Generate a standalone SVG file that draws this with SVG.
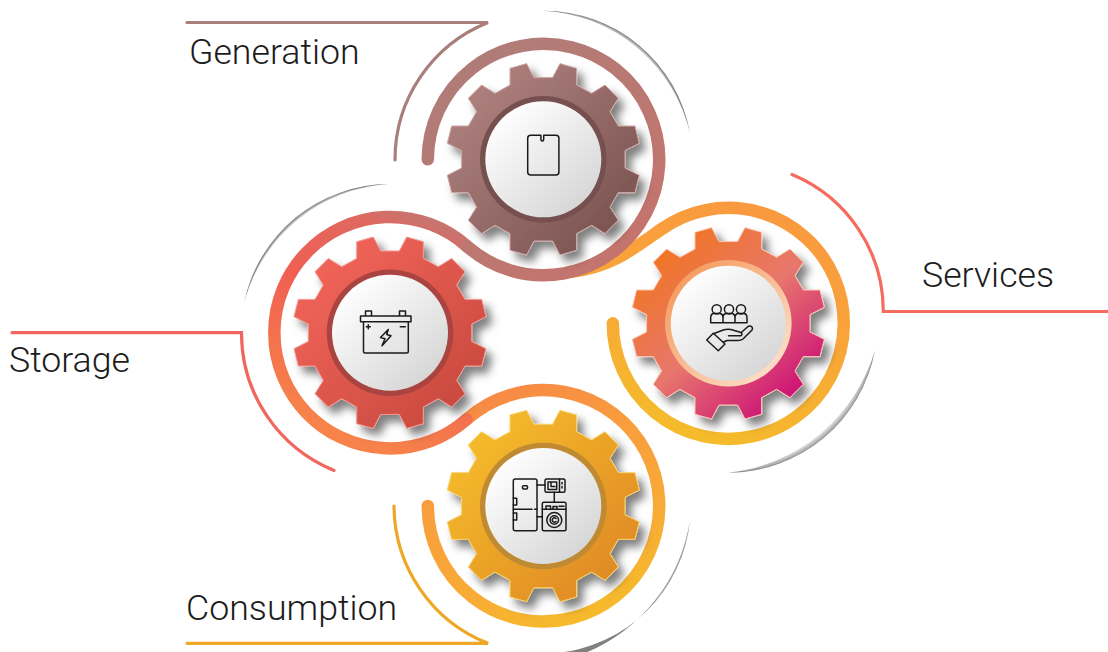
<svg xmlns="http://www.w3.org/2000/svg" width="1108" height="652" viewBox="0 0 1108 652">
<style>
.lbl{font-family:Roboto,"Liberation Sans",sans-serif;font-weight:300;font-size:35.7px;fill:#1c1c1c}
.ptr{fill:none;stroke-width:3.2;stroke-linecap:round;stroke-linejoin:miter}
.ring{fill:none;stroke-width:12.5;stroke-linecap:round}
.ico{fill:none;stroke:#1a1a1a;stroke-width:1.5;stroke-linejoin:round;stroke-linecap:round}
.disc{fill:url(#disc)}
.gear{stroke-width:1;filter:url(#sh)}
</style>
<defs>
<filter id="sh" x="-30%" y="-30%" width="170%" height="170%"><feDropShadow dx="6" dy="7" stdDeviation="4.5" flood-color="#000" flood-opacity=".5"/></filter>
<path id="g" d="M9.3-81.7 16.7-95.7 33.3-91V-74.3L48.3-66 61.7-74.3 75-61 66.7-47.7 75-33.3H91.7L96-16 81.7-8.7V8.7L96 16 91.7 33.3H75L66.7 47.7 75 61 61.7 74.3 48.3 66 33.3 74.3V91L16.7 95.7 9.3 81.7H-9.3L-16.7 95.7-33.3 91V74.3L-48.3 66-61.7 74.3-75 61-66.7 47.7-75 33.3H-91.7L-96 16-81.7 8.7V-8.7L-96-16-91.7-33.3H-75L-66.7-47.7-75-61-61.7-74.3-48.3-66-33.3-74.3V-91L-16.7-95.7-9.3-81.7Z"/>
<linearGradient id="disc" x1="0.15" y1="0.1" x2="0.85" y2="0.9"><stop offset="0" stop-color="#fff"/><stop offset="1" stop-color="#d6d6d6"/></linearGradient>
<linearGradient id="gBrown" x1="0.1" y1="0.1" x2="0.9" y2="0.85"><stop offset="0" stop-color="#b08280"/><stop offset="1" stop-color="#7b5451"/></linearGradient>
<linearGradient id="gRed" x1="0.1" y1="0.1" x2="0.9" y2="0.9"><stop offset="0" stop-color="#f3655a"/><stop offset="1" stop-color="#c8493e"/></linearGradient>
<linearGradient id="gSvc" x1="0.15" y1="0.1" x2="0.85" y2="0.9"><stop offset="0" stop-color="#f17522"/><stop offset=".5" stop-color="#e7776c"/><stop offset="1" stop-color="#cc0f78"/></linearGradient>
<linearGradient id="gYel" x1="0.1" y1="0.1" x2="0.9" y2="0.9"><stop offset="0" stop-color="#f6bd2b"/><stop offset="1" stop-color="#df8824"/></linearGradient>
<linearGradient id="rSvc" x1="0.1" y1="0.1" x2="0.9" y2="0.9"><stop offset="0" stop-color="#f49a5c"/><stop offset="1" stop-color="#fde0cc"/></linearGradient>
<linearGradient id="tBrown" gradientUnits="userSpaceOnUse" x1="430" y1="60" x2="600" y2="270"><stop offset="0" stop-color="#ae7d79"/><stop offset="1" stop-color="#c4746d"/></linearGradient>
<linearGradient id="tRed" gradientUnits="userSpaceOnUse" x1="475" y1="240" x2="385" y2="450"><stop offset="0" stop-color="#c8746f"/><stop offset=".12" stop-color="#e0685f"/><stop offset=".45" stop-color="#f05f52"/><stop offset="1" stop-color="#f7824a"/></linearGradient>
<linearGradient id="tYel" gradientUnits="userSpaceOnUse" x1="466" y1="405" x2="560" y2="625"><stop offset="0" stop-color="#f78a45"/><stop offset=".35" stop-color="#f99e3d"/><stop offset=".75" stop-color="#f8ac36"/><stop offset="1" stop-color="#f5b92b"/></linearGradient>
<linearGradient id="tSvc" gradientUnits="userSpaceOnUse" x1="700" y1="200" x2="640" y2="420"><stop offset="0" stop-color="#f99a3e"/><stop offset=".45" stop-color="#f9a539"/><stop offset="1" stop-color="#f4bb2b"/></linearGradient>
<radialGradient id="c1" gradientUnits="userSpaceOnUse" cx="543.3" cy="159.3" r="148.6"><stop offset=".965" stop-color="#fff"/><stop offset=".99" stop-color="#b4b4b4"/><stop offset="1" stop-color="#7a7a7a"/></radialGradient>
<radialGradient id="c2" gradientUnits="userSpaceOnUse" cx="390" cy="332.7" r="148.6"><stop offset=".965" stop-color="#fff"/><stop offset=".99" stop-color="#b4b4b4"/><stop offset="1" stop-color="#7a7a7a"/></radialGradient>
<radialGradient id="c3" gradientUnits="userSpaceOnUse" cx="728.3" cy="323.3" r="149.4"><stop offset=".95" stop-color="#fff"/><stop offset=".99" stop-color="#aaa"/><stop offset="1" stop-color="#808080"/></radialGradient>
<radialGradient id="c4" gradientUnits="userSpaceOnUse" cx="543.3" cy="506" r="147.6"><stop offset=".95" stop-color="#fff"/><stop offset=".99" stop-color="#aaa"/><stop offset="1" stop-color="#808080"/></radialGradient>
</defs>
<rect width="1108" height="652" fill="#fff"/>
<g id="connectors">
<path d="M543.3 10.7A148.6 148.6 0 0 1 690 133A160 160 0 0 0 543.3 10.7Z" fill="url(#c1)"/>
<path d="M389 184.1A148.6 148.6 0 0 0 244 303A160 160 0 0 1 389 184.1Z" fill="url(#c2)"/>
<path d="M875 350A149.4 149.4 0 0 1 728 472.7A172 172 0 0 0 875 350Z" fill="url(#c3)"/>
<path d="M690 520A147.6 147.6 0 0 1 555 653L585 653A172 172 0 0 0 690 520Z" fill="url(#c4)"/>
<path class="ptr" stroke="#a97f7b" d="M187 22.5H488A147.8 147.8 0 0 0 395 160"/>
<path class="ptr" stroke="#f1665e" d="M12 332.7H241.5A148.6 148.6 0 0 0 334 470.5"/>
<path class="ptr" stroke="#f56b5e" d="M792 174.5A148 148 0 0 1 883.3 311.5H1108"/>
<path class="ptr" stroke="#efa726" d="M187 643.3H488A148.6 148.6 0 0 1 394 506"/>
<path class="ring" stroke="url(#tSvc)" d="M570 272C610 268 633 249 661.7 229A115.5 115.5 0 1 1 612.8 323.3"/>
<path class="ring" stroke="url(#tYel)" d="M466.65 419.35A115.7 115.7 0 1 1 427.8 506"/>
<path class="ring" stroke="url(#tRed)" d="M466.65 246A115.7 115.7 0 1 0 466.65 419.35"/>
<path class="ring" stroke="url(#tBrown)" d="M427.8 159.3A115.7 115.7 0 1 1 466.65 246"/>
</g>
<g id="node-generation">
<use href="#g" x="543.3" y="159.3" class="gear" fill="url(#gBrown)" stroke="#cfa9a6"/>
<circle cx="543.3" cy="159.3" r="63.3" fill="#75504e"/>
<circle cx="543.3" cy="159.3" r="58" class="disc"/>
<path class="ico" d="M530.7 135.2H540.9V139Q540.9 141 542.3 141 543.7 141 543.7 139V135.2H555.9Q558.9 135.2 558.9 138.2V172Q558.9 175 555.9 175H530.7Q527.7 175 527.7 172V138.2Q527.7 135.2 530.7 135.2Z"/>
<text class="lbl" x="189" y="64">Generation</text>
</g>
<g id="node-storage">
<use href="#g" x="390" y="332.7" class="gear" fill="url(#gRed)" stroke="#f09a92"/>
<circle cx="390" cy="332.7" r="63.3" fill="#a94441"/>
<circle cx="390" cy="332.7" r="58" class="disc"/>
<path class="ico" d="M360.5 316H411V321.7H360.5ZM363.5 321.7V351.5Q363.5 353 365 353H406.8Q408.3 353 408.3 351.5V321.7M365.5 316V311H371.5V316M399.5 316V311H405.5V316"/>
<path class="ico" d="M366.3 326.8H370.3M368.3 324.8V328.8M400.3 326.8H405.3"/>
<path class="ico" d="M388.3 329.5 380.5 337.5 385 338.7 382 345.8 391 335.8 386.7 334.5Z"/>
<text class="lbl" x="9" y="372">Storage</text>
</g>
<g id="node-services">
<use href="#g" x="728.3" y="323.3" class="gear" fill="url(#gSvc)" stroke="#fbc7b5"/>
<circle cx="728.3" cy="323.3" r="63.3" fill="url(#rSvc)"/>
<circle cx="728.3" cy="323.3" r="57.5" class="disc"/>
<g class="ico">
<circle cx="716.7" cy="309.3" r="4.6"/><circle cx="729" cy="309.3" r="4.6"/><circle cx="741" cy="309.3" r="4.6"/>
<path d="M710.7 322.7V318Q710.7 313.5 714 313.5H719.5Q723 313.5 723 318V322.7ZM723 322.7V318Q723 313.5 726.5 313.5H731.5Q735 313.5 735 318V322.7M735 318Q735 313.5 738.5 313.5H743.5Q747 313.5 747 318V322.7H710.7"/>
<path d="M706.7 340 713.3 333.3 725 344 718.3 350.7Z"/>
<path d="M714 333.5 724 329.8Q727 329 731 329.5L741 332.5Q743 334.5 741 335.7H728.5M741 332.8 748 326.5Q750 325.3 752 327 753 328.5 752 330L743 339Q741 340.5 738 340.5H727L723.5 342"/>
</g>
<text class="lbl" x="922" y="287">Services</text>
</g>
<g id="node-consumption">
<use href="#g" x="543.3" y="506" class="gear" fill="url(#gYel)" stroke="#f8d36a"/>
<circle cx="543.3" cy="506" r="63.3" fill="#bf8a32"/>
<circle cx="543.3" cy="506" r="58" class="disc"/>
<g class="ico">
<rect x="513.3" y="479" width="23.7" height="51.7" rx="2"/>
<path d="M513.3 509.3H532M534.5 509.3H537"/>
<rect x="522.5" y="485.7" width="5" height="3.3" rx="1"/>
<path d="M513.3 498.3H516.7V505H513.3M513.3 513H516.7V520H513.3"/>
<rect x="545" y="479" width="20" height="13.3" rx="1.5"/>
<path d="M548 482H556.7V489.5H548ZM551 482V486.5H555M559.5 479V492.3M562 482.5V484M562 486.5V488"/>
<path d="M537 485H545M554.3 492.3V502.3M537 516.7H542.3"/>
<rect x="542.3" y="502.3" width="23.7" height="28.4" rx="1.5"/>
<path d="M542.3 509.3H566M546 509.3V506H550.5V509.3M553 509.3V506.5H557V509.3M559 506.3H564"/>
<circle cx="554.3" cy="520" r="7.5"/><circle cx="554.3" cy="520" r="4.2"/><path d="M556 518.5A2.2 2.2 0 1 0 556 521.5"/>
</g>
<text class="lbl" x="186" y="620">Consumption</text>
</g>
</svg>
